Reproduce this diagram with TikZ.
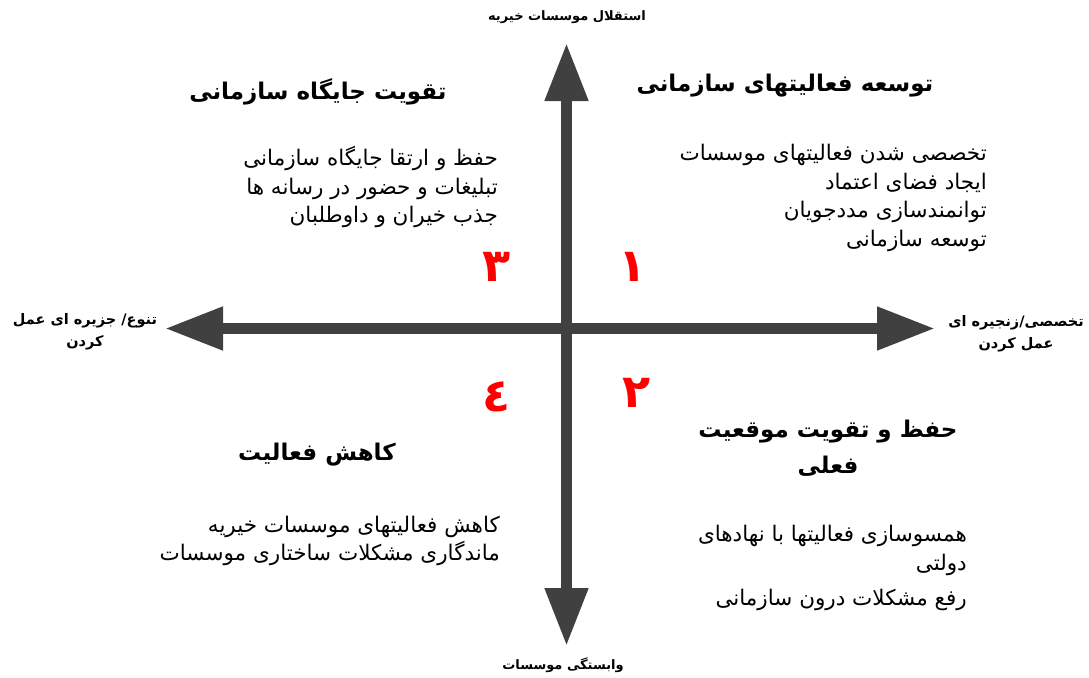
\documentclass[tikz,border=0pt]{standalone}
\usepackage{fontspec}
\usetikzlibrary{arrows.meta}
\TeXXeTstate=1
\newfontfamily\arabicfont[Script=Arabic]{DejaVu Sans}
\newcommand{\fa}[1]{{\arabicfont\beginR #1\endR}}
\definecolor{axisgray}{HTML}{404040}
\tikzset{
  axisline/.style={draw=axisgray, line width=11pt,
    arrows={-{Triangle[length=58pt,width=41pt]}}},
  axislabel/.style={font=\fontsize{13}{19}\selectfont\bfseries, align=center, inner sep=0pt},
  sidelabel/.style={font=\fontsize{14.5}{22}\selectfont\bfseries, align=center, inner sep=0pt},
  quadtitle/.style={font=\fontsize{23}{36}\selectfont\bfseries, align=center, inner sep=0pt},
  itemlist/.style={font=\fontsize{21.5}{28.5}\selectfont, align=right, inner sep=0pt, anchor=east},
  quadnum/.style={font=\fontsize{46}{50}\selectfont\bfseries, text=red, inner sep=0pt}
}
\begin{document}
\begin{tikzpicture}[x=1pt,y=-1pt]
\useasboundingbox (0,0) rectangle (1089,677);
\coordinate (c) at (566.5,328.5);
\coordinate (top) at (566.5,43);
\coordinate (bot) at (566.5,646);
\coordinate (lft) at (165,328.5);
\coordinate (rgt) at (935,328.5);
\draw[axisline] (c) -- (top);
\draw[axisline] (c) -- (bot);
\draw[axisline] (c) -- (lft);
\draw[axisline] (c) -- (rgt);

\node[axislabel] (ltop) at (567,17) {\fa{استقلال موسسات خیریه}};
\node[axislabel] (lbot) at (563,665) {\fa{وابستگی موسسات}};
\node[sidelabel] (lleft) at (85,332) {\fa{تنوع/ جزیره ای عمل}\\\fa{کردن}};
\node[sidelabel] (lright) at (1016,334) {\fa{تخصصی/زنجیره ای}\\\fa{عمل کردن}};

\node[quadnum] (n3) at (497,267) {\fa{٣}};
\node[quadnum] (n1) at (633,267) {\fa{١}};
\node[quadnum] (n4) at (497,397) {\fa{٤}};
\node[quadnum] (n2) at (637,393) {\fa{٢}};

\node[quadtitle] (t3) at (318,92) {\fa{تقویت جایگاه سازمانی}};
\node[quadtitle] (t1) at (785,86) {\fa{توسعه فعالیتهای سازمانی}};
\node[quadtitle] (t2) at (828,448) {\fa{حفظ و تقویت موقعیت}\\\fa{فعلی}};
\node[quadtitle] (t4) at (317,455) {\fa{کاهش فعالیت}};

\node[itemlist] (i3) at (498,187) {\fa{حفظ و ارتقا جایگاه سازمانی}\\\fa{تبلیغات و حضور در رسانه ها}\\\fa{جذب خیران و داوطلبان}};
\node[itemlist] (i1) at (987,198) {\fa{تخصصی شدن فعالیتهای موسسات}\\\fa{ایجاد فضای اعتماد}\\\fa{توانمندسازی مددجویان}\\\fa{توسعه سازمانی}};
\node[itemlist] (i2) at (967,568) {\fa{همسوسازی فعالیتها با نهادهای}\\\fa{دولتی}\\[7pt]\fa{رفع مشکلات درون سازمانی}};
\node[itemlist] (i4) at (500,541) {\fa{کاهش فعالیتهای موسسات خیریه}\\\fa{ماندگاری مشکلات ساختاری موسسات}};
\end{tikzpicture}
\end{document}
